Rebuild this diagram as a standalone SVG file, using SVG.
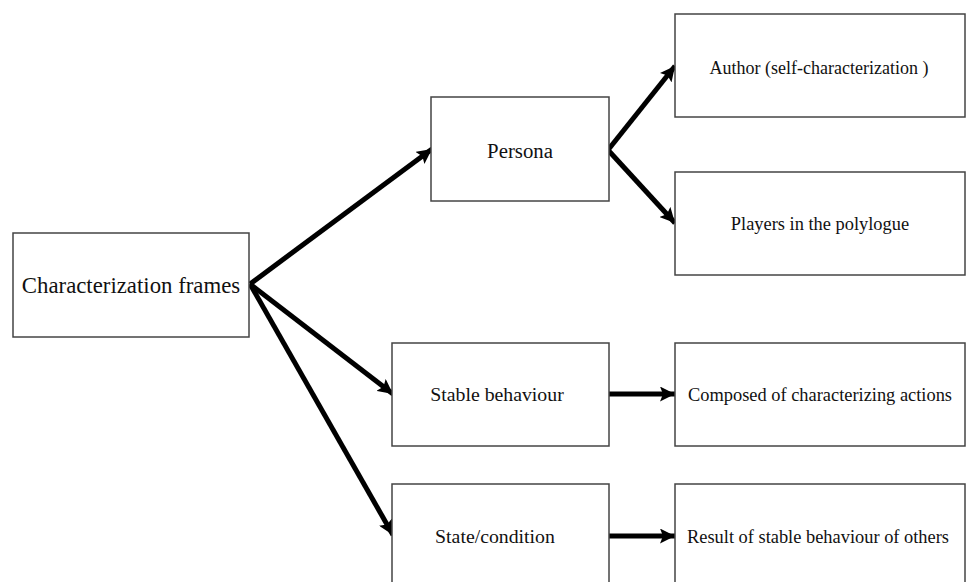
<svg xmlns="http://www.w3.org/2000/svg" width="966" height="582" viewBox="0 0 966 582">
<defs>
<style>
.box{fill:#fff;stroke:#444;stroke-width:1.5}
.t{font-family:"Liberation Serif","Times New Roman",serif;fill:#111;text-anchor:middle;dominant-baseline:central}
.c{stroke:#000;stroke-width:5;fill:none;marker-end:url(#ah)}
</style>
<marker id="ah" markerUnits="userSpaceOnUse" markerWidth="17" markerHeight="15" refX="15" refY="7.5" orient="auto">
<path d="M0,0 L15,7.5 L0,15 L3,7.5 Z" fill="#000"/>
</marker>
</defs>
<rect width="966" height="582" fill="#fff"/>
<g id="connectors">
<line class="c" x1="250" y1="284" x2="432" y2="149"/>
<line class="c" x1="250" y1="284" x2="393" y2="394"/>
<line class="c" x1="250" y1="284" x2="393" y2="535"/>
<line class="c" x1="608" y1="150" x2="675" y2="66"/>
<line class="c" x1="608" y1="150" x2="675" y2="223"/>
<line class="c" x1="609" y1="394" x2="675" y2="394"/>
<line class="c" x1="609" y1="536" x2="675" y2="536"/>
</g>
<g id="n-frames"><rect class="box" x="13" y="233" width="236" height="104"/><text class="t" x="131" y="285" font-size="22.8">Characterization frames</text></g>
<g id="n-persona"><rect class="box" x="431" y="97" width="178" height="104"/><text class="t" x="520" y="150" font-size="20.8">Persona</text></g>
<g id="n-author"><rect class="box" x="675" y="14" width="290" height="103"/><text class="t" x="819" y="68" font-size="18">Author (self-characterization )</text></g>
<g id="n-players"><rect class="box" x="675" y="172" width="290" height="103"/><text class="t" x="820" y="224" font-size="18.4">Players in the polylogue</text></g>
<g id="n-stable"><rect class="box" x="392" y="343" width="217" height="103"/><text class="t" x="497" y="394" font-size="19.8">Stable behaviour</text></g>
<g id="n-composed"><rect class="box" x="675" y="343" width="290" height="103"/><text class="t" x="820" y="395" font-size="18.4">Composed of characterizing actions</text></g>
<g id="n-state"><rect class="box" x="392" y="484" width="217" height="110"/><text class="t" x="495" y="536" font-size="19.8">State/condition</text></g>
<g id="n-result"><rect class="box" x="675" y="484" width="290" height="110"/><text class="t" x="818" y="537" font-size="18.4">Result of stable behaviour of others</text></g>
</svg>
